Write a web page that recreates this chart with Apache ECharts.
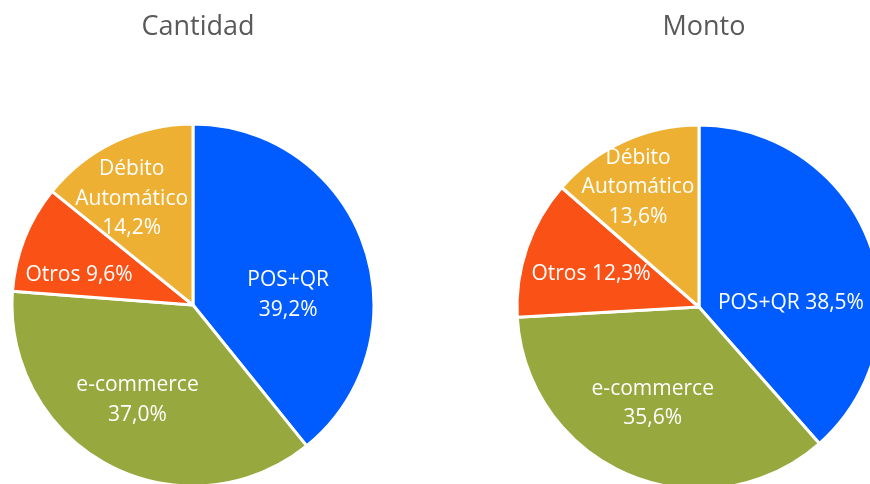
<!DOCTYPE html>
<html>
<head>
<meta charset="utf-8">
<script src="https://cdn.jsdelivr.net/npm/echarts@6/dist/echarts.min.js"></script>
<style>
  html, body { margin: 0; padding: 0; background: #fff; }
  #chart { width: 870px; height: 484px; }
</style>
</head>
<body>
<div id="chart"></div>
<script>
var categories = ['POS+QR', 'e-commerce', 'Otros', 'Débito Automático'];
var cantidadValues = [39.2, 37.0, 9.6, 14.2];
var montoValues = [38.5, 35.6, 12.3, 13.6];
var colors = ['#005cff', '#96a83e', '#fa5116', '#edb033'];

// how each label is broken into lines (as in the original)
var cantidadLabels = ['{name}\n{val}', '{name}\n{val}', '{name} {val}', 'Débito\nAutomático\n{val}'];
var montoLabels = ['{name} {val}', '{name}\n{val}', '{name} {val}', 'Débito\nAutomático\n{val}'];

// label nudges to sit where the original puts them
var labelShift = [
  [[7, 21], [-12, 12], [-27, 4], [-21, -22]],
  [[4, 29], [-10, 10], [-19, -3], [-22, -34]]
];

function fmt(v) {
  return v.toFixed(1).replace('.', ',') + '%';
}

function buildData(values, labels) {
  return categories.map(function (name, i) {
    return {
      name: name,
      value: values[i],
      itemStyle: { color: colors[i] },
      label: {
        formatter: labels[i].replace('{name}', name).replace('{val}', fmt(values[i]))
      }
    };
  });
}

var labelStyle = {
  show: true,
  position: 'inside',
  color: '#fff',
  fontFamily: 'Open Sans',
  fontSize: 21,
  lineHeight: 29.5,
  align: 'center'
};

var myChart = echarts.init(document.getElementById('chart'));
var option = {
  animation: false,
  title: [
    {
      text: 'Cantidad',
      left: 193,
      top: 9,
      textAlign: 'center',
      textStyle: { fontFamily: 'Open Sans', fontSize: 27, fontWeight: 'normal', color: '#595959' }
    },
    {
      text: 'Monto',
      left: 699,
      top: 9,
      textAlign: 'center',
      textStyle: { fontFamily: 'Open Sans', fontSize: 27, fontWeight: 'normal', color: '#595959' }
    }
  ],
  series: [
    {
      name: 'Cantidad',
      type: 'pie',
      center: [193, 305],
      radius: 181,
      startAngle: 90,
      clockwise: true,
      itemStyle: { borderColor: '#fff', borderWidth: 3 },
      label: labelStyle,
      labelLine: { show: false },
      labelLayout: function (params) {
        var s = labelShift[0][params.dataIndex];
        return { dx: s[0], dy: s[1] };
      },
      data: buildData(cantidadValues, cantidadLabels)
    },
    {
      name: 'Monto',
      type: 'pie',
      center: [699, 307],
      radius: 182,
      startAngle: 90,
      clockwise: true,
      itemStyle: { borderColor: '#fff', borderWidth: 3 },
      label: labelStyle,
      labelLine: { show: false },
      labelLayout: function (params) {
        var s = labelShift[1][params.dataIndex];
        return { dx: s[0], dy: s[1] };
      },
      data: buildData(montoValues, montoLabels)
    }
  ]
};
myChart.setOption(option);
</script>
</body>
</html>
